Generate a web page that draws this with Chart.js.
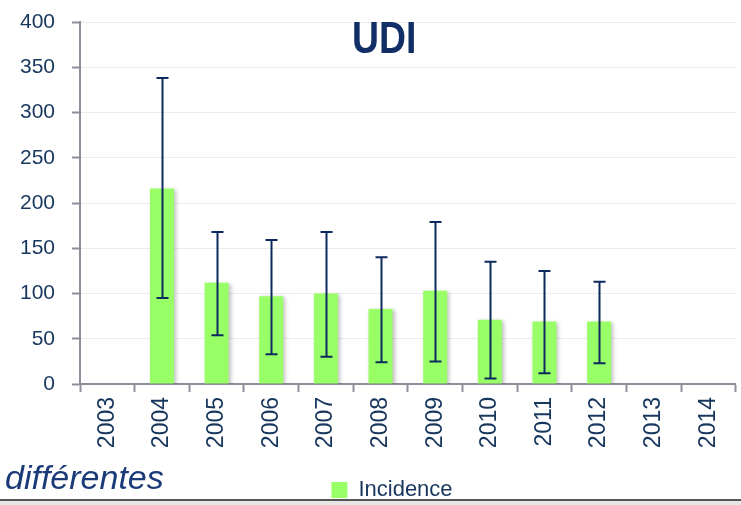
<!DOCTYPE html>
<html>
<head>
<meta charset="utf-8">
<script src="https://cdn.jsdelivr.net/npm/chart.js@4.4.1/dist/chart.umd.min.js"></script>
<style>
    html, body { margin: 0; padding: 0; background: #fff; }
    #wrap { position: relative; width: 741px; height: 505px; overflow: hidden; }
    #udiTitle {
        position: absolute; left: 352px; top: 12px;
        font: bold 45px "Liberation Sans", Arial, sans-serif;
        color: #112e66;
        transform: scaleX(0.83); transform-origin: 0 0;
    }
    #side {
        position: absolute; left: 5px; top: 458px;
        font: italic 34px "Liberation Sans", Arial, sans-serif;
        color: #1b3a78;
    }
    #rule1 { position: absolute; left: 0; top: 499px; width: 741px; height: 2px; background: #555; }
    #rule2 { position: absolute; left: 0; top: 501px; width: 741px; height: 4px; background: #e6e6e6; }
</style>
</head>
<body>
<div id="wrap">
    <canvas id="udiChart"></canvas>
    <div id="udiTitle">UDI</div>
    <div id="side">différentes</div>
    <div id="rule1"></div>
    <div id="rule2"></div>
</div>
<script>
var years = ['2003', '2004', '2005', '2006', '2007', '2008', '2009', '2010', '2011', '2012', '2013', '2014'];
var incidence = [null, 216, 112, 97, 100, 83, 103, 71, 69, 69, null, null];
var errLow = [null, 95, 54, 33, 30, 24, 25, 6, 12, 23, null, null];
var errHigh = [null, 338, 168, 159, 168, 140, 179, 135, 125, 113, null, null];

var navy = '#17365d';
var axisGray = '#8e8e9a';
var fontName = '"Liberation Sans", Arial, sans-serif';

// shadow under the bars
var barShadow = {
    id: 'barShadow',
    beforeDatasetsDraw: function (chart) {
        var ctx = chart.ctx;
        ctx.save();
        ctx.shadowColor = 'rgba(0,0,0,0.25)';
        ctx.shadowBlur = 4;
        ctx.shadowOffsetX = 2;
        ctx.shadowOffsetY = 1;
    },
    afterDatasetsDraw: function (chart) {
        chart.ctx.restore();
    }
};

// error bars drawn from errLow / errHigh through the y scale
var errorBars = {
    id: 'errorBars',
    afterDatasetsDraw: function (chart) {
        var ctx = chart.ctx;
        var y = chart.scales.y;
        var meta = chart.getDatasetMeta(0);
        ctx.save();
        ctx.strokeStyle = '#0d2a5e';
        ctx.lineWidth = 2;
        for (var i = 0; i < years.length; i++) {
            if (errLow[i] == null) continue;
            var x = Math.round(meta.data[i].x) + 0.5;
            var top = y.getPixelForValue(errHigh[i]);
            var bot = y.getPixelForValue(errLow[i]);
            ctx.beginPath();
            ctx.moveTo(x, top);
            ctx.lineTo(x, bot);
            ctx.moveTo(x - 6, top);
            ctx.lineTo(x + 6, top);
            ctx.moveTo(x - 6, bot);
            ctx.lineTo(x + 6, bot);
            ctx.stroke();
        }
        ctx.restore();
    }
};

// legend sits right of the canvas centre and a bit lower in the original
var legendShift = {
    id: 'legendShift',
    afterLayout: function (chart) {
        chart.legend.left += 22;
        chart.legend.right += 22;
        chart.legend.top += 7;
        chart.legend.bottom += 7;
    }
};

var udiChart = new Chart(document.getElementById('udiChart').getContext('2d'), {
    type: 'bar',
    data: {
        labels: years,
        datasets: [{
            label: 'Incidence',
            data: incidence,
            backgroundColor: '#99ff66',
            borderWidth: 0,
            categoryPercentage: 1,
            barPercentage: 0.44
        }]
    },
    plugins: [barShadow, errorBars, legendShift],
    options: {
        responsive: true,
        maintainAspectRatio: false,
        animation: false,
        layout: {
            padding: { left: 0, right: 1, top: 22, bottom: 1 }
        },
        plugins: {
            legend: {
                position: 'bottom',
                labels: {
                    boxWidth: 16,
                    boxHeight: 16,
                    padding: 4,
                    color: navy,
                    font: { family: fontName, size: 22 }
                }
            },
            tooltip: { enabled: false }
        },
        scales: {
            x: {
                offset: true,
                afterFit: function (scale) { scale.height = 84; },
                grid: {
                    offset: true,
                    drawOnChartArea: false,
                    tickLength: 8,
                    tickWidth: 2,
                    tickColor: axisGray
                },
                border: { color: axisGray, width: 2 },
                ticks: {
                    color: navy,
                    minRotation: 90,
                    maxRotation: 90,
                    padding: 5,
                    font: { family: fontName, size: 23 }
                }
            },
            y: {
                min: 0,
                max: 400,
                afterFit: function (scale) {
                    scale.width = 80;
                    // tick padding would otherwise push the plot top down
                    scale.paddingTop = 0;
                    scale.paddingBottom = 0;
                },
                grid: {
                    color: '#ececec',
                    tickColor: axisGray,
                    tickLength: 8,
                    tickWidth: 2
                },
                border: { color: axisGray, width: 2 },
                ticks: {
                    stepSize: 50,
                    color: navy,
                    padding: 17,
                    font: { family: fontName, size: 21 }
                }
            }
        }
    }
});
</script>
</body>
</html>
